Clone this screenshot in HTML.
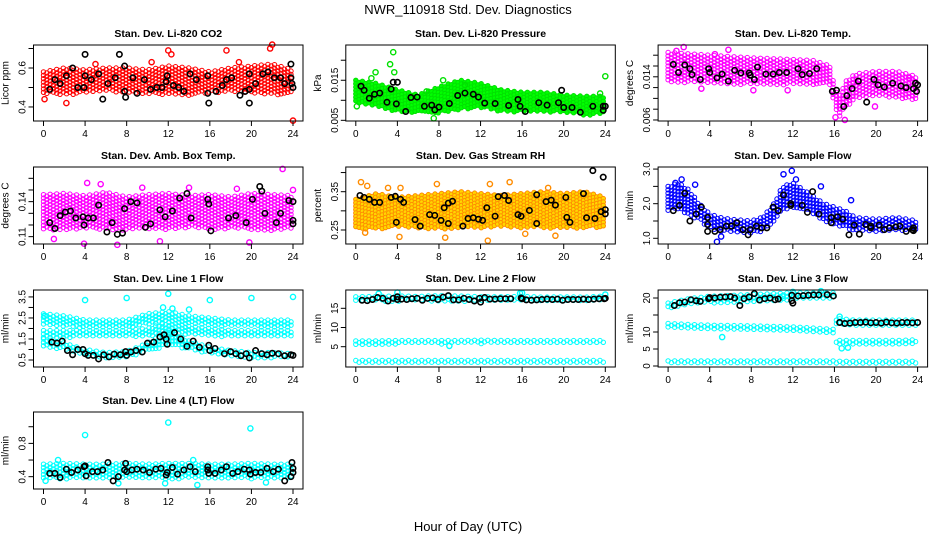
<!DOCTYPE html>
<html><head><meta charset="utf-8"><title>NWR_110918 Std. Dev. Diagnostics</title>
<style>
html,body{margin:0;padding:0;background:#fff;}
svg{display:block;font-family:"Liberation Sans",Arial,sans-serif;}
</style></head>
<body>
<svg id="chart" width="936" height="540" viewBox="0 0 936 540" xmlns="http://www.w3.org/2000/svg">
<text x="468" y="14" text-anchor="middle" font-size="13">NWR_110918  Std. Dev. Diagnostics</text>
<text x="468" y="531" text-anchor="middle" font-size="13">Hour of Day (UTC)</text>
</svg>
<script>
// ---------- data ----------
const xTicks=[0,4,8,12,16,20,24];
const H2=[0,2,4,6,8,10,12,14,16,18,20,22,24];

const co2Lo=[0.47,0.46,0.47,0.48,0.47,0.47,0.46,0.46,0.47,0.48,0.47,0.46,0.47];
const co2Hi=[0.58,0.60,0.59,0.60,0.60,0.59,0.61,0.60,0.58,0.60,0.61,0.62,0.59];
const co2Extra=[[12,0.69],[12.3,0.67],[17.6,0.69],[21.8,0.7],[22,0.72],[24,0.33],[18.8,0.63],[0.1,0.44],[2.2,0.42],[10.4,0.63],[5,0.62]];
const co2Mean=[[0.6,0.49],[1.1,0.54],[1.6,0.52],[2.2,0.56],[2.8,0.6],[3.3,0.5],[3.9,0.5],[4,0.67],[4,0.56],[4.6,0.54],[5.3,0.57],[5.7,0.44],[6.2,0.52],[6.9,0.55],[7.3,0.67],[7.8,0.61],[7.8,0.48],[7.9,0.45],[8.6,0.55],[9,0.47],[9.7,0.54],[10.3,0.49],[10.9,0.5],[11.4,0.5],[11.8,0.53],[11.9,0.56],[12.5,0.51],[13,0.5],[13.5,0.48],[14.1,0.57],[14.7,0.54],[15.8,0.56],[15.8,0.47],[15.9,0.42],[16.6,0.48],[17.2,0.51],[17.6,0.54],[18.1,0.55],[18.9,0.46],[19.4,0.48],[19.8,0.57],[19.8,0.49],[19.8,0.42],[20.4,0.52],[21.1,0.57],[21.6,0.58],[22.2,0.55],[22.8,0.55],[23.2,0.52],[23.8,0.62],[23.8,0.55],[23.9,0.52],[24,0.5]];

const presLo=[0.0095,0.0083,0.0071,0.0068,0.0068,0.0076,0.0081,0.0071,0.0071,0.0070,0.0068,0.0063,0.0064];
const presHi=[0.0150,0.0142,0.0126,0.0113,0.0133,0.0150,0.0142,0.0126,0.0120,0.0120,0.0113,0.0110,0.0110];
const presExtra=[[0.1,0.0085],[1.5,0.0155],[1.9,0.017],[3.3,0.019],[3.6,0.022],[3.7,0.017],[8.4,0.015],[10.5,0.0138],[24,0.016],[23.5,0.0117],[7.5,0.0055],[6.8,0.0122]];
const presMean=[[0.5,0.0135],[0.8,0.0125],[1.3,0.0105],[1.8,0.0115],[2.3,0.0118],[3,0.0095],[3.4,0.0128],[3.6,0.0145],[3.9,0.0091],[4,0.0145],[4.8,0.0072],[5.3,0.0107],[5.9,0.0108],[6.6,0.0085],[7.3,0.0088],[7.6,0.0076],[8,0.0083],[9,0.0092],[9.8,0.0112],[10.5,0.0118],[11.3,0.0115],[11.8,0.0108],[12.4,0.0093],[13.4,0.0092],[14.7,0.0087],[15.6,0.0102],[15.8,0.0085],[16.3,0.0072],[17.6,0.0094],[18.4,0.0088],[19.5,0.0094],[19.8,0.0125],[20,0.0082],[20.8,0.0082],[21.6,0.007],[22.8,0.0085],[23.8,0.0085],[23.8,0.0075],[24,0.0085]];

const tempH=[0,4,8,12,14,15.6,16,16.5,17,18,20,22,24];
const tempLo=[0.0130,0.0128,0.0125,0.0125,0.0125,0.0125,0.0085,0.0065,0.0080,0.0100,0.0105,0.0100,0.0095];
const tempHi=[0.0185,0.0180,0.0175,0.0172,0.0170,0.0160,0.0120,0.0105,0.0130,0.0145,0.0150,0.0150,0.0140];
const tempExtra=[[1.5,0.0195],[0.8,0.0188],[5.8,0.0190],[4.5,0.0182],[16.1,0.0065],[17,0.006],[8.2,0.0115],[11.5,0.0115],[3.2,0.0118],[23.2,0.0138],[19.9,0.0085]];
const tempMean=[[0.5,0.0163],[1,0.0148],[1.6,0.0162],[2.1,0.0155],[2.3,0.0144],[3.1,0.0135],[3.9,0.0155],[4,0.0148],[4.7,0.0138],[5.2,0.0145],[5.8,0.0132],[6.4,0.0152],[7,0.0147],[7.8,0.0147],[7.9,0.0143],[8.3,0.0135],[8.6,0.0158],[9.4,0.0145],[10.1,0.0145],[10.7,0.0148],[11.4,0.0148],[12.5,0.0155],[12.9,0.0144],[13.6,0.0146],[14.3,0.0155],[15.8,0.0113],[16.2,0.0115],[16.9,0.0085],[17.2,0.0105],[17.7,0.0118],[18.3,0.0132],[19.1,0.0093],[19.8,0.0135],[20.2,0.0125],[20.8,0.0121],[21.6,0.0128],[22.4,0.0123],[22.9,0.012],[23.6,0.0118],[23.9,0.0113],[24,0.0125],[23.8,0.0128]];

const ambLo=[0.116,0.115,0.117,0.116,0.115,0.117,0.116,0.118,0.116,0.117,0.116,0.115,0.117];
const ambHi=[0.146,0.147,0.145,0.148,0.144,0.146,0.147,0.145,0.146,0.144,0.147,0.146,0.145];
const ambExtra=[[23,0.168],[19.8,0.105],[3.9,0.104],[7.1,0.103],[24,0.15],[4.2,0.156],[9.5,0.152],[1,0.108],[14,0.152],[18.6,0.151],[11.2,0.106],[5.5,0.155]];
const ambMean=[[0.6,0.122],[1.1,0.117],[1.6,0.128],[2.1,0.131],[2.6,0.132],[3.1,0.126],[3.8,0.127],[3.9,0.12],[4.3,0.126],[4.8,0.126],[5.3,0.137],[6.1,0.114],[6.6,0.122],[7.1,0.112],[7.6,0.113],[7.8,0.134],[8.4,0.14],[9,0.139],[9.8,0.118],[10.3,0.121],[11.2,0.133],[11.7,0.127],[12.4,0.132],[13.1,0.143],[13.8,0.147],[14.2,0.126],[15.8,0.142],[15.9,0.138],[16.1,0.115],[17.8,0.126],[18.5,0.128],[19.5,0.122],[20.1,0.142],[20.8,0.153],[21,0.149],[21.3,0.13],[22.4,0.122],[22.8,0.13],[23.6,0.141],[24,0.124],[24,0.14],[24,0.121]];

const rhLo=[0.255,0.250,0.258,0.255,0.252,0.256,0.255,0.258,0.254,0.256,0.253,0.255,0.257];
const rhHi=[0.330,0.345,0.335,0.340,0.345,0.350,0.345,0.340,0.345,0.350,0.345,0.350,0.335];
const rhExtra=[[0.5,0.375],[1.1,0.365],[3.1,0.36],[4.3,0.36],[7.8,0.37],[12.9,0.37],[14.8,0.375],[18.5,0.36],[0.9,0.243],[4.2,0.232],[8.6,0.23],[12.7,0.222],[16.3,0.24],[19.2,0.235]];
const rhMean=[[0.4,0.34],[0.8,0.335],[1.3,0.33],[1.8,0.322],[2.3,0.322],[3.4,0.335],[3.8,0.338],[3.9,0.27],[4.3,0.33],[4.6,0.322],[5.7,0.277],[6.2,0.26],[7.1,0.29],[7.6,0.288],[8.2,0.275],[8.5,0.308],[8.9,0.32],[8.9,0.267],[9.3,0.325],[10.3,0.26],[10.8,0.28],[11.3,0.282],[11.8,0.278],[12.2,0.275],[12.6,0.308],[13.4,0.286],[13.7,0.337],[14.3,0.34],[14.7,0.327],[15.6,0.29],[15.9,0.286],[16.7,0.301],[17.4,0.342],[17.4,0.267],[18.3,0.324],[18.8,0.328],[19.2,0.315],[20.3,0.283],[20.6,0.27],[21.9,0.345],[22.2,0.282],[23,0.28],[23.6,0.298],[24,0.292],[24,0.303],[22.8,0.405],[23.8,0.388],[20.2,0.335]];

const flowH=[0,1,2,3,4,5,6,8,9,10,11,12,13,14,15,16,17,18,20,22,24];
const flowLo=[1.8,1.8,1.7,1.5,1.3,1.2,1.2,1.15,1.2,1.4,1.8,1.9,1.8,1.7,1.5,1.4,1.3,1.2,1.2,1.2,1.2];
const flowHi=[2.5,2.6,2.4,2.0,1.7,1.6,1.55,1.5,1.6,1.9,2.5,2.6,2.4,2.2,2.0,1.9,1.8,1.6,1.55,1.6,1.5];
const flowExtra=[[11.9,2.95],[11.1,2.85],[0.7,2.6],[4.7,0.9],[1.3,2.7],[2.6,2.55],[17.6,2.1],[5.1,1.05],[14.7,2.5],[12.3,2.7]];
const flowMean=[[0.5,1.8],[1.1,1.95],[1.6,2.3],[2.1,1.5],[2.7,1.7],[3.2,1.9],[3.8,1.6],[3.8,1.4],[3.8,1.2],[4.5,1.2],[5,1.25],[5.6,1.35],[6.1,1.35],[6.6,1.45],[7.2,1.25],[7.7,1.1],[7.9,1.25],[8.5,1.35],[9,1.3],[9.5,1.3],[10.1,1.9],[10.6,1.8],[11.1,2.25],[11.8,1.95],[11.8,2.0],[12.9,1.95],[13.4,1.75],[13.9,2.35],[14.5,1.7],[15.7,1.6],[15.7,1.45],[16.3,1.62],[16.8,1.55],[17.4,1.1],[17.9,1.38],[18.4,1.12],[19,1.4],[19.5,1.3],[19.5,1.35],[20.3,1.38],[20.8,1.25],[21.3,1.3],[21.9,1.33],[22.3,1.35],[22.9,1.2],[23.5,1.25],[23.6,1.3],[23.6,1.22]];

const l1Lo=[1.1,1.0,0.7,0.6,0.6,0.9,1.2,1.0,0.8,0.7,0.6,0.6,0.6];
const l1Hi=[1.5,1.3,1.0,0.85,0.9,1.3,1.9,1.4,1.1,0.95,0.85,0.85,0.8];
const l1MidLo=[1.5,1.55,1.6,1.6,1.6,1.6,1.8,1.7,1.6,1.6,1.6,1.6,1.6];
const l1MidHi=[1.9,1.9,1.9,1.9,1.9,2.0,2.3,2.1,2.0,1.9,1.9,1.9,1.9];
const l1TopLo=[2.2,2.1,2.0,2.0,2.0,2.2,2.3,2.2,2.1,2.1,2.1,2.05,2.0];
const l1TopHi=[2.7,2.6,2.4,2.4,2.4,2.7,2.8,2.6,2.5,2.4,2.4,2.4,2.4];
const l1Extra=[[4,3.35],[8,3.45],[12,3.65],[16,3.35],[20,3.45],[24,3.5],[11.5,3.0],[12.4,2.95],[0.1,2.6],[14,2.9]];
const l1Mean=[[0.8,1.35],[1.3,1.3],[1.8,1.4],[2.3,0.95],[2.8,0.75],[3.3,1.0],[3.8,1.0],[4,0.8],[4.3,0.72],[4.8,0.72],[5.3,0.55],[5.8,0.75],[6.3,0.65],[6.8,0.78],[7.4,0.75],[7.9,0.9],[8,0.72],[8.4,0.88],[8.9,0.95],[9.5,0.88],[10,1.3],[10.6,1.35],[11.2,1.6],[11.6,1.7],[11.8,1.5],[11.9,1.25],[12.6,1.8],[13.2,1.5],[13.8,1.15],[14.4,1.4],[15,1.1],[15.9,1.2],[16,0.95],[16.5,1.05],[17.4,0.8],[18,0.9],[18.5,0.8],[19,0.7],[19.5,0.8],[19.8,0.6],[20.4,0.95],[21,0.8],[21.5,0.75],[22,0.82],[22.6,0.8],[23.2,0.7],[23.8,0.75],[24,0.72]];

const l2TopLo=[16.8,16.8,16.8,16.9,16.8,16.8,16.8,16.9,16.8,16.8,16.9,16.9,16.9];
const l2TopHi=[18.0,18.1,18.2,18.1,18.3,18.2,18.0,18.0,18.1,17.9,18.0,17.9,18.2];
const l2MidLo=[5.6,5.6,5.7,5.8,5.7,5.8,5.8,5.8,5.8,5.8,5.8,5.8,5.8];
const l2MidHi=[6.5,6.5,6.6,6.6,6.6,6.6,6.7,6.6,6.6,6.6,6.6,6.6,6.6];
const l2LowLo=[0.6,0.6,0.6,0.6,0.6,0.6,0.6,0.6,0.6,0.6,0.6,0.6,0.6];
const l2LowHi=[1.4,1.4,1.4,1.4,1.4,1.4,1.4,1.4,1.4,1.4,1.4,1.4,1.4];
const l2Extra=[[2.2,18.8],[4,19.1],[16,19.0],[15.8,18.9],[24,18.6],[9,5.2]];
const l2Mean=[[0.6,17.1],[1.1,17.0],[1.6,17.3],[2.1,17.8],[2.6,17.6],[3.1,16.9],[3.6,17.6],[4,17.3],[4,18.0],[4.4,17.4],[4.9,17.3],[5.4,17.5],[5.9,17.6],[6.4,17.1],[6.9,17.6],[7.4,17.7],[7.9,17.3],[8.4,17.9],[8.9,18.3],[9.4,17.2],[9.9,17.2],[10.4,17.6],[10.9,17.3],[11.4,16.9],[11.9,17.6],[12,16.6],[12.4,17.8],[12.9,17.4],[13.4,17.4],[13.9,17.5],[14.4,17.5],[14.9,17.5],[15.9,17.7],[16,17.5],[16.4,17.2],[16.9,17.1],[17.4,17.2],[17.9,17.3],[18.4,17.4],[18.9,17.3],[19.4,17.4],[19.9,17.1],[20.4,17.3],[20.9,17.3],[21.4,17.3],[21.9,17.4],[22.4,17.3],[22.9,17.4],[23.4,17.5],[23.9,17.5],[24,17.6]];

const l3H=[0,2,4,8,12,15.9,16.1,18,20,22,24];
const l3TopLo=[17.0,18.0,18.5,19.0,19.5,20.0,12.0,12.0,12.0,12.0,12.0];
const l3TopHi=[18.5,19.8,20.5,21.0,21.5,21.5,14.0,13.5,13.5,13.5,13.5];
const l3MidLo=[11.0,10.8,10.6,10.5,10.3,9.5,6.3,6.3,6.3,6.3,6.3];
const l3MidHi=[12.5,12.2,12.0,11.8,11.5,10.8,7.5,7.5,7.5,7.5,7.7];
const l3LowLo=[0.6,0.6,0.6,0.6,0.6,0.6,0.6,0.6,0.6,0.6,0.6];
const l3LowHi=[1.5,1.5,1.5,1.5,1.5,1.5,1.4,1.4,1.4,1.4,1.4];
const l3Extra=[[5.2,8.5],[16.5,14.5],[16.7,5.2],[12,21.8],[14.7,22],[17.3,5.4],[11,20.5]];
const l3Mean=[[0.6,17.8],[1.1,18.6],[1.6,18.8],[2.2,19.5],[2.7,19.2],[3.1,19],[3.9,19.8],[4,20.1],[4.5,20],[5,20.2],[5.5,20.3],[6,20.4],[6.4,20],[6.9,17.8],[7.3,19.8],[7.8,20.3],[8.3,21.3],[8.8,19.4],[9.3,19.8],[9.8,20],[10.3,19.5],[10.6,19.7],[11.9,20.8],[11.9,19.2],[12,18.5],[12.5,20.6],[13,20.7],[13.5,20.8],[14,20.9],[14.5,20.9],[15.3,21],[15.9,20.6],[16.5,12.8],[17,12.5],[17.5,12.6],[18,12.8],[18.5,12.8],[19,12.9],[19.5,12.7],[20,12.8],[20.5,12.6],[21,12.9],[21.5,12.7],[22,12.6],[22.5,12.8],[23,12.8],[23.5,12.7],[24,12.8]];

const l4Lo=[0.38,0.37,0.38,0.37,0.38,0.38,0.37,0.38,0.37,0.38,0.37,0.38,0.38];
const l4Hi=[0.55,0.56,0.55,0.55,0.56,0.55,0.56,0.56,0.55,0.55,0.56,0.55,0.55];
const l4Extra=[[4,0.9],[12,1.05],[19.9,0.98],[14.8,0.3],[0.2,0.35],[7.2,0.32],[11.7,0.32],[21.4,0.33],[1.4,0.6],[14.4,0.6]];
const l4Mean=[[0.6,0.44],[1.1,0.44],[1.6,0.39],[2.2,0.49],[2.7,0.45],[3.3,0.48],[3.9,0.52],[4,0.53],[4.1,0.41],[4.7,0.46],[5.2,0.46],[5.7,0.48],[6.2,0.57],[6.7,0.35],[7.2,0.4],[7.8,0.48],[7.9,0.56],[8,0.46],[8.5,0.48],[9,0.49],[9.6,0.48],[10.2,0.45],[10.8,0.49],[11.3,0.5],[11.8,0.42],[11.9,0.45],[12.4,0.51],[12.9,0.43],[13.5,0.48],[14.1,0.52],[14.6,0.46],[15.8,0.52],[15.8,0.48],[15.9,0.44],[16.5,0.44],[17.1,0.48],[17.6,0.52],[18.2,0.44],[18.7,0.46],[19.3,0.49],[19.8,0.48],[19.9,0.43],[20.4,0.45],[20.9,0.45],[21.5,0.5],[22.1,0.46],[22.6,0.49],[23.2,0.35],[23.8,0.4],[23.9,0.57],[24,0.5],[24,0.45]];

// ---------- rendering ----------
const NS="http://www.w3.org/2000/svg";
const svg=document.getElementById('chart');
const rowTop=[45,167,290,412], rowBot=[121,244,367,489];
function mk(tag,attrs,parent){const e=document.createElementNS(NS,tag);for(const k in attrs)e.setAttribute(k,attrs[k]);(parent||svg).appendChild(e);return e;}
function interp(hs,vs,h){for(let i=0;i<hs.length-1;i++){if(h>=hs[i]&&h<=hs[i+1]){const t=(h-hs[i])/(hs[i+1]-hs[i]);return vs[i]+t*(vs[i+1]-vs[i]);}}return h<hs[0]?vs[0]:vs[vs.length-1];}

function panel(p){
  const x0=43.5+312.3*p.col, x24=x0+249.5;
  const L=x0-10, R=x24+10, T=rowTop[p.row], B=rowBot[p.row];
  const xs=h=>x0+h*(x24-x0)/24;
  const ys=v=>B+(v-p.dom[0])*(T-B)/(p.dom[1]-p.dom[0]);
  const g=mk('g',{});
  
  
  const t=mk('text',{x:(L+R)/2,y:T-8,'text-anchor':'middle','font-size':'10.5','font-weight':'bold'},g);
  t.textContent=p.title;
  
  
  const yl=mk('text',{x:0,y:0,'text-anchor':'middle','font-size':'10',transform:`translate(${L-25},${(T+B)/2}) rotate(-90)`},g);
  yl.textContent=p.ylab;
  
  
  const marks=mk('g',{},g);
  
  
  p.bands.forEach(b=>{
    let k=0;
    for(let px=xs(b.h[0]);px<=xs(b.h[b.h.length-1])+0.01;px+=3.3){
      const h=(px-x0)*24/(x24-x0);
      const lo=ys(interp(b.h,b.lo,h)), hi=ys(interp(b.h,b.hi,h));
      for(let py=hi+((k%2)*1.7);py<=lo;py+=3.4){
        mk('circle',{cx:px.toFixed(1),cy:py.toFixed(1),r:2.2,fill:p.fill||'none',stroke:p.color,'stroke-width':1.0},marks);
      }
      k++;
    }
  });
  p.extra.forEach(d=>{
    const c=mk('circle',{cx:xs(d[0]),cy:ys(d[1]),r:2.6,fill:'none',stroke:p.color,'stroke-width':1.4},marks);
    
    
  });
  p.mean.forEach(d=>{
    const c=mk('circle',{cx:xs(d[0]),cy:ys(d[1]),r:2.7,fill:'none',stroke:'#000','stroke-width':1.6},marks);
    
    
  });
  const box=mk('rect',{x:L,y:T,width:R-L,height:B-T,fill:'none',stroke:'#000','stroke-width':1},g);
  
  
  xTicks.forEach(h=>{
    mk('line',{x1:xs(h),x2:xs(h),y1:B,y2:B+5,stroke:'#000'},g);
    const tx=mk('text',{x:xs(h),y:B+16,'text-anchor':'middle','font-size':'10'},g);
    tx.textContent=h;
    
    
  });
  p.yticks.forEach(v=>{mk('line',{x1:L,x2:L-5,y1:ys(v),y2:ys(v),stroke:'#000'},g);});
  p.ylabels.forEach(v=>{
    const ty=mk('text',{x:0,y:0,'text-anchor':'middle','font-size':'10',transform:`translate(${L-8},${ys(v)}) rotate(-90)`},g);
    ty.textContent=String(v);
    
    
  });
}

const panels=[
 {name:'co2',row:0,col:0,title:'Stan. Dev. Li-820 CO2',ylab:'Licor ppm',dom:[0.328,0.718],yticks:[0.4,0.5,0.6,0.7],ylabels:[0.4,0.6],color:'#ff0000',
  bands:[{h:H2,lo:co2Lo,hi:co2Hi}],extra:co2Extra,mean:co2Mean},
 {name:'pressure',row:0,col:1,title:'Stan. Dev. Li-820 Pressure',ylab:'kPa',dom:[0.00483,0.0238],yticks:[0.005,0.01,0.015,0.02],ylabels:['0.005','0.015'],color:'#00e000',fill:'#00ff00',
  bands:[{h:H2,lo:presLo,hi:presHi}],extra:presExtra,mean:presMean},
 {name:'temp',row:0,col:2,title:'Stan. Dev. Li-820 Temp.',ylab:'degrees C',dom:[0.00581,0.01989],yticks:[0.006,0.008,0.01,0.012,0.014,0.016,0.018],ylabels:[0.006,0.014],color:'#ff00ff',
  bands:[{h:tempH,lo:tempLo,hi:tempHi}],extra:tempExtra,mean:tempMean},
 {name:'amb-box-temp',row:1,col:0,title:'Stan. Dev. Amb. Box Temp.',ylab:'degrees C',dom:[0.1037,0.1697],yticks:[0.11,0.12,0.13,0.14,0.15,0.16],ylabels:[0.11,0.14],color:'#ff00ff',
  bands:[{h:H2,lo:ambLo,hi:ambHi}],extra:ambExtra,mean:ambMean},
 {name:'gas-rh',row:1,col:1,title:'Stan. Dev. Gas Stream RH',ylab:'percent',dom:[0.2134,0.4145],yticks:[0.25,0.3,0.35,0.4],ylabels:[0.25,0.35],color:'#ff8c00',fill:'#ffd700',
  bands:[{h:H2,lo:rhLo,hi:rhHi}],extra:rhExtra,mean:rhMean},
 {name:'sample-flow',row:1,col:2,title:'Stan. Dev. Sample Flow',ylab:'ml/min',dom:[0.835,3.06],yticks:[1,1.5,2,2.5,3],ylabels:['1.0','2.0','3.0'],color:'#0000ff',
  bands:[{h:flowH,lo:flowLo,hi:flowHi}],extra:flowExtra,mean:flowMean},
 {name:'line1-flow',row:2,col:0,title:'Stan. Dev. Line 1 Flow',ylab:'ml/min',dom:[0.167,3.83],yticks:[0.5,1,1.5,2,2.5,3,3.5],ylabels:[0.5,1.5,2.5,3.5],color:'#00ffff',
  bands:[{h:H2,lo:l1Lo,hi:l1Hi},{h:H2,lo:l1MidLo,hi:l1MidHi},{h:H2,lo:l1TopLo,hi:l1TopHi}],extra:l1Extra,mean:l1Mean},
 {name:'line2-flow',row:2,col:1,title:'Stan. Dev. Line 2 Flow',ylab:'ml/min',dom:[-0.29,19.77],yticks:[5,10,15],ylabels:[5,10,15],color:'#00ffff',
  bands:[{h:H2,lo:l2TopLo,hi:l2TopHi},{h:H2,lo:l2MidLo,hi:l2MidHi},{h:H2,lo:l2LowLo,hi:l2LowHi}],extra:l2Extra,mean:l2Mean},
 {name:'line3-flow',row:2,col:2,title:'Stan. Dev. Line 3 Flow',ylab:'ml/min',dom:[-0.29,22.35],yticks:[0,5,10,15,20],ylabels:[0,5,10,20],color:'#00ffff',
  bands:[{h:l3H,lo:l3TopLo,hi:l3TopHi},{h:l3H,lo:l3MidLo,hi:l3MidHi},{h:l3H,lo:l3LowLo,hi:l3LowHi}],extra:l3Extra,mean:l3Mean},
 {name:'line4-flow',row:3,col:0,title:'Stan. Dev. Line 4 (LT) Flow',ylab:'ml/min',dom:[0.252,1.177],yticks:[0.4,0.6,0.8,1.0],ylabels:[0.4,0.8],color:'#00ffff',
  bands:[{h:H2,lo:l4Lo,hi:l4Hi}],extra:l4Extra,mean:l4Mean}
];
panels.forEach(panel);
</script>
</body></html>
